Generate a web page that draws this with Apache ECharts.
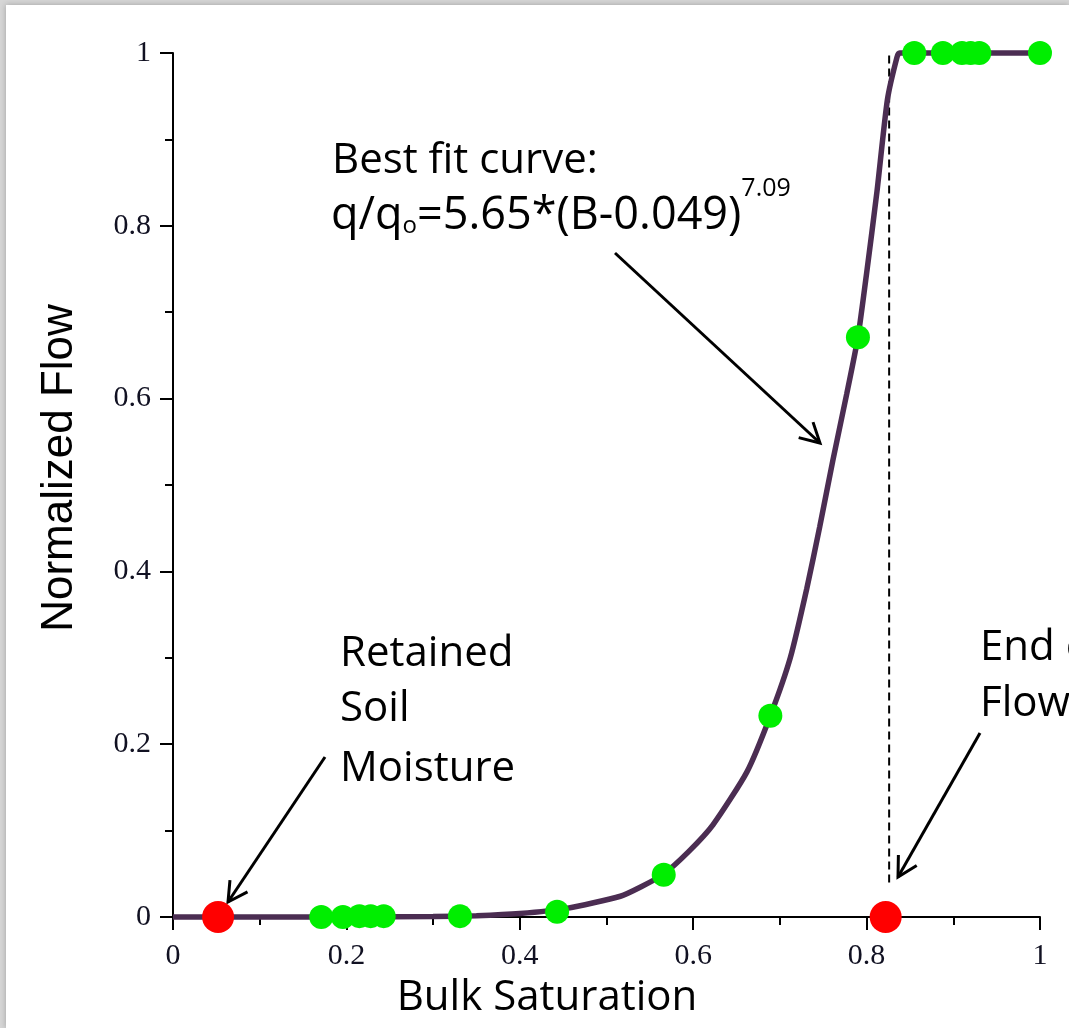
<!DOCTYPE html>
<html>
<head>
<meta charset="utf-8">
<script src="https://cdn.jsdelivr.net/npm/echarts@6/dist/echarts.min.js"></script>
<style>
html,body{margin:0;padding:0;background:#fff;}
#chart{width:1069px;height:1028px;}
</style>
</head>
<body>
<div id="chart"></div>
<script>
// ---- data ----
var xTicks = [0, 0.2, 0.4, 0.6, 0.8, 1];
var yTicks = [0, 0.2, 0.4, 0.6, 0.8, 1];

// best-fit curve
var curveX = [0, 0.1, 0.2, 0.3, 0.35, 0.40, 0.454, 0.516, 0.54, 0.565, 0.595, 0.623, 0.662, 0.689, 0.712, 0.731, 0.746, 0.761, 0.777, 0.790, 0.800, 0.812, 0.824, 0.835, 0.838, 1.0];
var curveY = [0, 0, 0, 0.0005, 0.0015, 0.004, 0.010, 0.024, 0.035, 0.049, 0.076, 0.107, 0.168, 0.233, 0.300, 0.380, 0.452, 0.528, 0.605, 0.671, 0.745, 0.840, 0.946, 0.995, 1.0, 1.0];

// measured points (green)
var obsX = [0.171, 0.196, 0.215, 0.228, 0.243, 0.331, 0.443, 0.566, 0.689, 0.790, 0.855, 0.888, 0.910, 0.920, 0.930, 1.0];
var obsY = [0, 0, 0.001, 0.001, 0.001, 0.001, 0.006, 0.049, 0.233, 0.671, 1, 1, 1, 1, 1, 1];

// retained soil moisture & end of flow (red)
var keyX = [0.052, 0.822];
var keyY = [0, 0];

// dashed vertical line at end of flow
var dashX = [0.826, 0.826];
var dashY = [0.04, 1];

function zip(a, b) { return a.map(function (v, i) { return [v, b[i]]; }); }

var FONT = '"Open Sans", "Noto Sans", sans-serif';
var SERIF = '"Liberation Serif", "DejaVu Serif", serif';

function arrow(x1, y1, x2, y2) {
  var ang = Math.atan2(y2 - y1, x2 - x1);
  var L = 22, spread = 0.5;
  var a1 = ang + Math.PI - spread, a2 = ang + Math.PI + spread;
  return {
    type: 'group',
    children: [
      { type: 'line', shape: { x1: x1, y1: y1, x2: x2, y2: y2 }, style: { stroke: '#000', lineWidth: 3 } },
      { type: 'polyline', shape: { points: [[x2 + L * Math.cos(a1), y2 + L * Math.sin(a1)], [x2, y2], [x2 + L * Math.cos(a2), y2 + L * Math.sin(a2)]] },
        style: { stroke: '#000', lineWidth: 3, fill: null } }
    ]
  };
}

function label(txt, x, y) {
  return { type: 'text', left: x, top: y, z: 10,
    style: { text: txt, font: '42px ' + FONT, fill: '#000' } };
}

var chart = echarts.init(document.getElementById('chart'));
chart.setOption({
  backgroundColor: '#d6d6d6',
  animation: false,
  grid: { left: 173, right: 29, top: 53, bottom: 111, containLabel: false },
  xAxis: {
    type: 'value', min: 0, max: 1, interval: 0.2,
    axisLine: { lineStyle: { color: '#000', width: 2 } },
    axisTick: { length: 13, lineStyle: { color: '#000', width: 2 } },
    minorTick: { show: true, splitNumber: 2, length: 8, lineStyle: { color: '#000', width: 2 } },
    splitLine: { show: false },
    axisLabel: { fontFamily: SERIF, fontSize: 30, color: '#111122', margin: 24 }
  },
  yAxis: {
    type: 'value', min: 0, max: 1, interval: 0.2,
    axisLine: { lineStyle: { color: '#000', width: 2 } },
    axisTick: { length: 13, lineStyle: { color: '#000', width: 2 } },
    minorTick: { show: true, splitNumber: 2, length: 8, lineStyle: { color: '#000', width: 2 } },
    splitLine: { show: false },
    axisLabel: { fontFamily: SERIF, fontSize: 30, color: '#111122', margin: 22 }
  },
  graphic: [
    { type: 'rect', shape: { x: 6, y: 5, width: 1063, height: 1023 }, z: -10,
      style: { fill: '#fff', shadowBlur: 6, shadowColor: 'rgba(0,0,0,0.25)' } },
    // axis titles
    { type: 'text', x: 60, y: 468, rotation: Math.PI / 2, z: 10,
      style: { text: 'Normalized Flow', font: '44px "Liberation Sans", Arial, sans-serif', fill: '#000',
               align: 'center', verticalAlign: 'middle' } },
    { type: 'text', x: 547, y: 998, z: 10,
      style: { text: 'Bulk Saturation', font: '42px ' + FONT, fill: '#000',
               align: 'center', verticalAlign: 'middle' } },
    label('Best fit curve:', 332, 140),
    { type: 'text', left: 331, top: 176, z: 10,
      style: {
        text: '{m|q/q}{s|o}{m|=5.65*(B-0.049)}{p|7.09}',
        rich: {
          m: { font: '45px ' + FONT, fill: '#000', lineHeight: 80 },
          s: { font: '24px ' + FONT, fill: '#000', verticalAlign: 'bottom', lineHeight: 24, padding: [0, 0, 18, 0] },
          p: { font: '25px ' + FONT, fill: '#000', verticalAlign: 'top', lineHeight: 25 }
        }
      } },
    label('Retained', 340, 633),
    label('Soil', 340, 688),
    label('Moisture', 340, 748),
    label('End of', 980, 627),
    label('Flow', 980, 683),
    arrow(615, 253, 820, 443),
    arrow(325, 757, 228, 902),
    arrow(980, 733, 898, 877)
  ],
  series: [
    { type: 'line', data: zip(curveX, curveY), showSymbol: false, symbol: 'none', clip: false, z: 3,
      smooth: 0.2,
      lineStyle: { color: '#4b2d52', width: 5.5 } },
    { type: 'line', data: zip(dashX, dashY), showSymbol: false, symbol: 'none', clip: false, z: 2,
      lineStyle: { color: '#000', width: 2, type: [8, 5] } },
    { type: 'scatter', data: zip(obsX, obsY), symbolSize: 24, clip: false, z: 4,
      itemStyle: { color: '#00ee00', opacity: 1 } },
    { type: 'scatter', data: zip(keyX, keyY), symbolSize: 32, clip: false, z: 5,
      itemStyle: { color: '#ff0000', opacity: 1 } }
  ]
});
</script>
</body>
</html>
